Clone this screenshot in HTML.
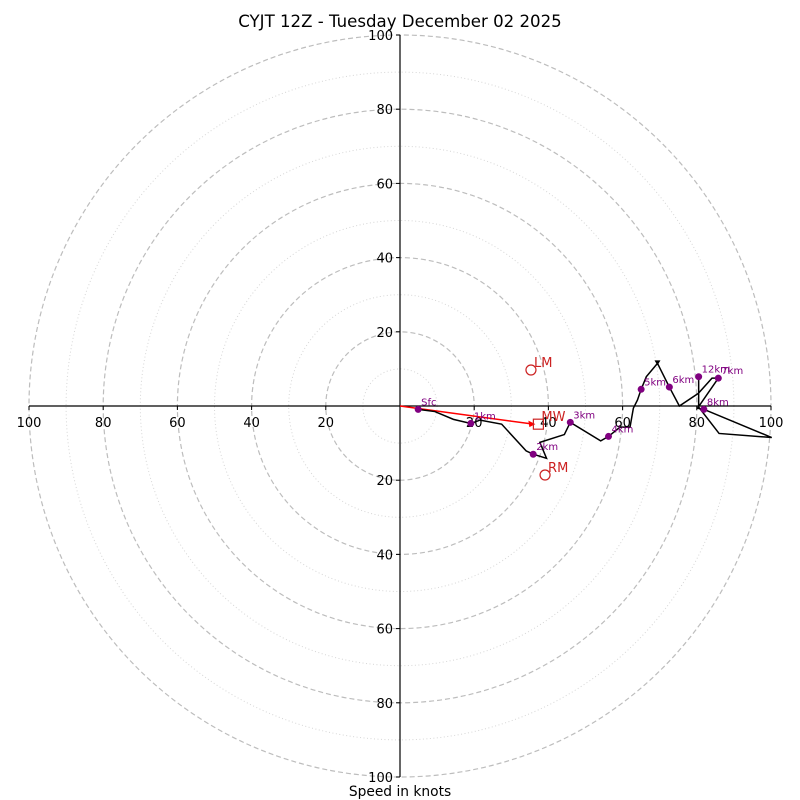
<!DOCTYPE html>
<html><head><meta charset="utf-8"><style>
body{margin:0;background:#fff}
svg{display:block;font-family:"DejaVu Sans","Liberation Sans",sans-serif}
</style></head><body>
<svg width="800" height="800">
<text x="400" y="27" text-anchor="middle" font-size="16.6">CYJT 12Z - Tuesday December 02 2025</text>
<g id="rings"></g>
<g id="axes"></g>
<g id="plot"></g>
<text x="400" y="796" text-anchor="middle" font-size="13.8">Speed in knots</text>
</svg>
<script>
const ringsDashed=[20,40,60,80,100];
const ringsDotted=[10,30,50,70,90];
const tickLabels=[20,40,60,80,100];
const pathU=[4.9,9.4,14.4,19.1,21.6,27.4,34,35.9,39.5,37.7,44.3,45.9,54.1,56.2,59.3,62,62.9,64,65,66.4,69.4,72.6,75.3,80.4,84.1,85.8,80.2,81.9,100.2,86,80.5,80.5];
const pathV=[-0.9,-1.5,-3.6,-4.7,-3.8,-4.9,-12.1,-13,-14.1,-9.8,-7.7,-4.4,-9.4,-8.2,-5.7,-5.7,-0.6,1.6,4.5,7.9,11.5,5.1,0,3.4,7.5,7.5,-0.6,-0.9,-8.5,-7.4,-0.3,7.9];
const markerNames=["Sfc","1km","2km","3km","4km","5km","6km","7km","8km","12km"];
const markerU=[4.9,19.1,35.9,45.9,56.2,65,72.6,85.8,81.9,80.5];
const markerV=[-0.9,-4.7,-13,-4.4,-8.2,4.5,5.1,7.5,-0.9,7.9];
const motionNames=["LM","MW","RM"];
const motionU=[35.3,37.3,39.1];
const motionV=[9.7,-4.9,-18.6];
const cx=400,cy=406,k=3.71;
const X=u=>cx+u*k, Y=v=>cy-v*k;
const NS="http://www.w3.org/2000/svg";
function mk(t,a,p){const e=document.createElementNS(NS,t);for(const n in a)e.setAttribute(n,a[n]);p.appendChild(e);return e;}
const rings=document.getElementById('rings'),axes=document.getElementById('axes'),plot=document.getElementById('plot');
ringsDashed.forEach(r=>{const c=mk('circle',{cx:cx,cy:cy,r:r*k,fill:'none',stroke:'#bdbdbd','stroke-width':1.2,'stroke-dasharray':'5,3'},rings);

});
ringsDotted.forEach(r=>{const c=mk('circle',{cx:cx,cy:cy,r:r*k,fill:'none',stroke:'#d6d6d6','stroke-width':1,'stroke-dasharray':'1,2.5'},rings);

});
mk('line',{x1:X(-100),y1:cy,x2:X(100),y2:cy,stroke:'#000','stroke-width':1.2},axes);
mk('line',{x1:cx,y1:Y(100),x2:cx,y2:Y(-100),stroke:'#000','stroke-width':1.2},axes);
tickLabels.forEach(t=>{[1,-1].forEach(s=>{
mk('line',{x1:X(s*t),y1:cy,x2:X(s*t),y2:cy+4,stroke:'#000'},axes);
const a=mk('text',{x:X(s*t),y:cy+21,'text-anchor':'middle','font-size':13},axes);a.textContent=t;


mk('line',{x1:cx-4,y1:Y(s*t),x2:cx,y2:Y(s*t),stroke:'#000'},axes);
const b=mk('text',{x:cx-7,y:Y(s*t)+5,'text-anchor':'end','font-size':13},axes);b.textContent=t;


});});
const ar=mk('line',{x1:X(0),y1:Y(0),x2:X(motionU[1])-5,y2:Y(motionV[1]),stroke:'#ff0000','stroke-width':1.5},plot);


{const ex=X(motionU[1])-3,ey=Y(motionV[1]);mk('polygon',{points:`${ex},${ey} ${ex-7},${ey-3.5} ${ex-6},${ey+3}`,fill:'#ff0000'},plot);}
const pl=mk('polyline',{points:pathU.map((u,i)=>X(u)+','+Y(pathV[i])).join(' '),fill:'none',stroke:'#000','stroke-width':1.5},plot);


{const tu=pathU[20],tv=pathV[20];const tx=X(tu),ty=Y(tv);mk('polygon',{points:`${tx-3},${ty-3} ${tx+3},${ty-3} ${tx},${ty+2}`,fill:'#000'},plot);}
markerNames.forEach((n,i)=>{
const c=mk('circle',{cx:X(markerU[i]),cy:Y(markerV[i]),r:3.5,fill:'#800080'},plot);


const t=mk('text',{x:X(markerU[i])+3,y:Y(markerV[i])-4,'font-size':10,fill:'#800080'},plot);t.textContent=n;


});
motionNames.forEach((n,i)=>{
const x=X(motionU[i]),y=Y(motionV[i]);
let m;
if(n==='MW'){m=mk('rect',{x:x-5,y:y-5,width:10,height:10,fill:'none',stroke:'#cc2222','stroke-width':1.2},plot);}
else{m=mk('circle',{cx:x,cy:y,r:5,fill:'none',stroke:'#cc2222','stroke-width':1.2},plot);}


const t=mk('text',{x:x+3,y:y-3,'font-size':13,fill:'#cc2222'},plot);t.textContent=n;


});
</script>
</body></html>
